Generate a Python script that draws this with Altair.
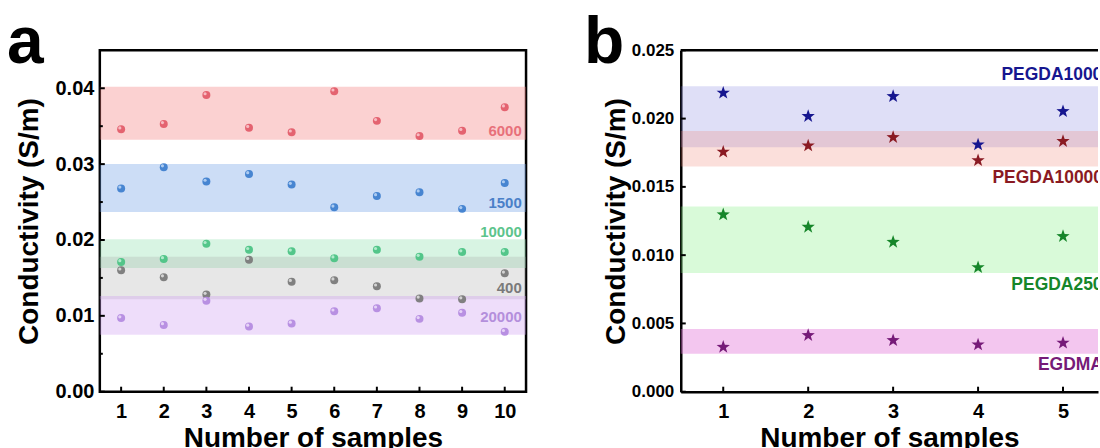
import altair as alt
import pandas as pd

FONT = "Liberation Sans"

# ---------------- panel a: PEGDA of five molecular weights, ten samples each
samples_a = list(range(1, 11))
names_a = ["6000", "1500", "10000", "400", "20000"]
cond_6000 = [0.0346, 0.0353, 0.0391, 0.0348, 0.0342, 0.0396, 0.0357, 0.0337, 0.0344, 0.0375]
cond_1500 = [0.0268, 0.0296, 0.0277, 0.0287, 0.0273, 0.0243, 0.0258, 0.0263, 0.0241, 0.0275]
cond_10000 = [0.0171, 0.0175, 0.0195, 0.0187, 0.0185, 0.0176, 0.0187, 0.0178, 0.0184, 0.0184]
cond_400 = [0.0160, 0.0151, 0.0128, 0.0174, 0.0145, 0.0147, 0.0139, 0.0123, 0.0122, 0.0156]
cond_20000 = [0.0097, 0.0088, 0.0120, 0.0086, 0.0090, 0.0106, 0.0110, 0.0096, 0.0104, 0.0079]
band_lo_a = [0.0332, 0.0237, 0.0163, 0.0122, 0.0075]
band_hi_a = [0.0402, 0.0300, 0.0201, 0.0178, 0.0126]
yticks_a = [0.0, 0.01, 0.02, 0.03, 0.04]
ytick_minor_a = [0.005, 0.015, 0.025, 0.035]

# ---------------- panel b: crosslinkers, five samples each
samples_b = [1, 2, 3, 4, 5]
names_b = ["PEGDA1000", "PEGDA10000", "PEGDA250", "EGDMA"]
cond_pegda1000 = [0.02188, 0.02017, 0.02163, 0.01809, 0.02053]
cond_pegda10000 = [0.01756, 0.01802, 0.01863, 0.01694, 0.01834]
cond_pegda250 = [0.01297, 0.01206, 0.01096, 0.00910, 0.01138]
cond_egdma = [0.00327, 0.00413, 0.00376, 0.00344, 0.00357]
band_lo_b = [0.01790, 0.01650, 0.00870, 0.00278]
band_hi_b = [0.02236, 0.01910, 0.01357, 0.00459]
yticks_b = [0.0, 0.005, 0.010, 0.015, 0.020, 0.025]

# ---------------- styling
W_A, W_B, H = 427, 418, 342
X_MAX_B = 0.5 + W_B / 85.1          # plot b runs off the right edge of the page
band_colors_a = ["#f47c7c", "#6d9de6", "#8ee0b0", "#a0a0a0", "#cf9ff0"]
band_opacity_a = [0.35, 0.35, 0.35, 0.25, 0.35]
sphere_mid_a = ["#e35d6a", "#3f7fcf", "#4cc385", "#7a7a7a", "#b48be0"]
sphere_light_a = ["#f8c0c6", "#b2cff2", "#b6ecd0", "#d8d8d8", "#e8d6f8"]
label_colors_a = ["#e8707a", "#4a80c8", "#5cc48c", "#7a7a7a", "#b48fdc"]
label_x_a = [10.4] * 5
label_y_a = [0.0344, 0.0249, 0.0211, 0.0137, 0.0099]

band_colors_b = ["#8080e0", "#f08070", "#80ee80", "#e070d8"]
band_opacity_b = [0.25, 0.25, 0.3, 0.4]
star_colors_b = ["#16168f", "#8a1a22", "#16862a", "#761a78"]
label_x_b = [4.275, 4.169, 4.392, 4.705]
label_y_b = [0.0232, 0.01565, 0.00784, 0.00198]

# five-pointed star, normalised to [-1, 1]
STAR = ("M0,-1L0.2351,-0.3236L0.9511,-0.309L0.3804,0.1236L0.5878,0.809L0,0.4"
        "L-0.5878,0.809L-0.3804,0.1236L-0.9511,-0.309L-0.2351,-0.3236Z")


def axis_x(values, domain_line):
    return alt.Axis(values=values, title="Number of samples", grid=False, ticks=False,
                    domain=domain_line, domainColor="black", domainWidth=2.5,
                    labelFont=FONT, labelFontSize=20, labelFontWeight="bold", labelColor="black",
                    labelPadding=10, labelFlush=False, labelOverlap=False,
                    titleFont=FONT, titleFontSize=28, titleFontWeight="bold", titleColor="black",
                    titlePadding=3)


def axis_y(values, fmt, size, label_pad, title_pad, domain_line):
    return alt.Axis(values=values, format=fmt, title="Conductivity (S/m)", grid=False, ticks=False,
                    domain=domain_line, domainColor="black", domainWidth=2.5,
                    labelFont=FONT, labelFontSize=size, labelFontWeight="bold", labelColor="black",
                    labelPadding=label_pad, labelFlush=False, labelOverlap=False,
                    titleFont=FONT, titleFontSize=28, titleFontWeight="bold", titleColor="black",
                    titlePadding=title_pad)


# ================= panel a
xs_a = alt.Scale(domain=[0.5, 10.5], nice=False, zero=False)
ys_a = alt.Scale(domain=[0, 0.045], nice=False)
ax_xa = axis_x(samples_a, False)
ax_ya = axis_y(yticks_a, ".2f", 20, 6, 12, False)


def xa(field):
    return alt.X(field, type="quantitative", scale=xs_a, axis=ax_xa)


def ya(field):
    return alt.Y(field, type="quantitative", scale=ys_a, axis=ax_ya)


layers_a = []
for lo, hi, col, op in zip(band_lo_a, band_hi_a, band_colors_a, band_opacity_a):
    df = pd.DataFrame({"lo": [lo], "hi": [hi]})
    layers_a.append(alt.Chart(df).mark_rect(color=col, opacity=op).encode(
        x=alt.value(0), x2=alt.value(W_A), y=ya("lo"), y2="hi"))

series_a = [cond_6000, cond_1500, cond_10000, cond_400, cond_20000]
for vals, mid, light in zip(series_a, sphere_mid_a, sphere_light_a):
    df = pd.DataFrame({"sample": samples_a, "value": vals})
    # sphere body
    layers_a.append(alt.Chart(df).mark_circle(size=64, color=mid, opacity=0.95).encode(
        x=xa("sample"), y=ya("value")))
    # specular highlight
    layers_a.append(alt.Chart(df).mark_circle(size=10, color=light, opacity=0.95,
                                              xOffset=-1.3, yOffset=-1.3).encode(
        x=xa("sample"), y=ya("value")))

for name, lx, ly, col in zip(names_a, label_x_a, label_y_a, label_colors_a):
    df = pd.DataFrame({"label": [name], "px": [lx], "py": [ly]})
    layers_a.append(alt.Chart(df).mark_text(
        align="right", baseline="middle", font=FONT, fontSize=15, fontWeight="bold", color=col
    ).encode(x=xa("px"), y=ya("py"), text="label:N"))

# inward ticks
layers_a.append(alt.Chart(pd.DataFrame({"sample": samples_a})).mark_rule(color="black", strokeWidth=2).encode(
    x=xa("sample"), y=alt.value(H), y2=alt.value(H - 5)))
layers_a.append(alt.Chart(pd.DataFrame({"value": yticks_a})).mark_rule(color="black", strokeWidth=2).encode(
    y=ya("value"), x=alt.value(0), x2=alt.value(5)))
layers_a.append(alt.Chart(pd.DataFrame({"value": ytick_minor_a})).mark_rule(color="black", strokeWidth=2).encode(
    y=ya("value"), x=alt.value(0), x2=alt.value(3)))

layers_a.append(alt.Chart(pd.DataFrame({"t": ["a"]})).mark_text(
    align="left", baseline="alphabetic", font=FONT, fontSize=66, fontWeight="bold", color="black"
).encode(text="t:N", x=alt.value(-93), y=alt.value(13)))

panel_a = alt.layer(*layers_a).properties(
    width=W_A, height=H, view=alt.ViewBackground(stroke="black", strokeWidth=2.5))

# ================= panel b
xs_b = alt.Scale(domain=[0.5, X_MAX_B], nice=False, zero=False)
ys_b = alt.Scale(domain=[0, 0.025], nice=False)
ax_xb = axis_x(samples_b, True)
ax_yb = axis_y(yticks_b, ".3f", 17, 7, 1, True)


def xb(field):
    return alt.X(field, type="quantitative", scale=xs_b, axis=ax_xb)


def yb(field):
    return alt.Y(field, type="quantitative", scale=ys_b, axis=ax_yb)


layers_b = []
for lo, hi, col, op in zip(band_lo_b, band_hi_b, band_colors_b, band_opacity_b):
    df = pd.DataFrame({"lo": [lo], "hi": [hi]})
    layers_b.append(alt.Chart(df).mark_rect(color=col, opacity=op).encode(
        x=alt.value(0), x2=alt.value(W_B), y=yb("lo"), y2="hi"))

series_b = [cond_pegda1000, cond_pegda10000, cond_pegda250, cond_egdma]
for vals, col in zip(series_b, star_colors_b):
    df = pd.DataFrame({"sample": samples_b, "value": vals})
    layers_b.append(alt.Chart(df).mark_point(shape=STAR, filled=True, size=195, color=col, opacity=1).encode(
        x=xb("sample"), y=yb("value")))

for name, lx, ly, col in zip(names_b, label_x_b, label_y_b, star_colors_b):
    df = pd.DataFrame({"label": [name], "px": [lx], "py": [ly]})
    layers_b.append(alt.Chart(df).mark_text(
        align="left", baseline="middle", font=FONT, fontSize=17.5, fontWeight="bold", color=col, clip=True
    ).encode(x=xb("px"), y=yb("py"), text="label:N"))

layers_b.append(alt.Chart(pd.DataFrame({"sample": samples_b})).mark_rule(color="black", strokeWidth=2).encode(
    x=xb("sample"), y=alt.value(H), y2=alt.value(H - 5)))
layers_b.append(alt.Chart(pd.DataFrame({"value": yticks_b})).mark_rule(color="black", strokeWidth=2).encode(
    y=yb("value"), x=alt.value(0), x2=alt.value(5)))
layers_b.append(alt.Chart(pd.DataFrame({"k": [0]})).mark_rule(color="black", strokeWidth=2.5).encode(
    x=alt.value(0), x2=alt.value(W_B), y=alt.value(0)))

layers_b.append(alt.Chart(pd.DataFrame({"t": ["b"]})).mark_text(
    align="left", baseline="alphabetic", font=FONT, fontSize=66, fontWeight="bold", color="black"
).encode(text="t:N", x=alt.value(-97), y=alt.value(13)))

panel_b = alt.layer(*layers_b).properties(
    width=W_B, height=H, view=alt.ViewBackground(stroke=None))

chart = alt.hconcat(panel_a, panel_b, spacing=56).properties(
    padding={"left": 5, "top": 8, "right": 0, "bottom": 0},
    background="white",
)

chart.save("out.html", embed_options={"renderer": "svg", "actions": False})
